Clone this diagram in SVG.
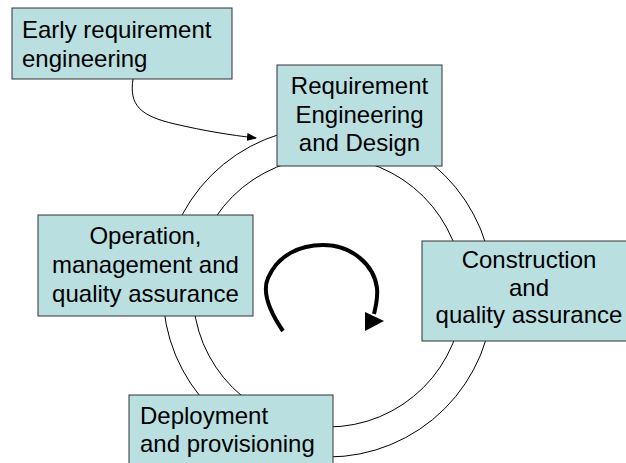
<svg xmlns="http://www.w3.org/2000/svg" width="626" height="463" viewBox="0 0 626 463">
<style>
.box{fill:#b9dfe1;stroke:#333;stroke-width:1}
.t{font-family:"Liberation Sans",Arial,sans-serif;font-size:24px;fill:#000}
.c{text-anchor:middle}
.ring{fill:none;stroke:#000;stroke-width:1}
</style>
<defs>
<marker id="ah" markerWidth="10" markerHeight="8" refX="9" refY="4" orient="auto" markerUnits="userSpaceOnUse">
<path d="M0,0 L10,4 L0,8 Z" fill="#000"/>
</marker>
</defs>
<rect width="626" height="463" fill="#fff"/>
<g id="connectors">
<circle class="ring" cx="328" cy="292" r="165"/>
<circle class="ring" cx="328" cy="292" r="135"/>
<path d="M133,79 C129,105 140,116 175,124 C205,131 230,135 256,138" fill="none" stroke="#000" stroke-width="1" marker-end="url(#ah)"/>
<path d="M283,331 C270,312 262,292 268,278 C278,255 300,245 323,245 C352,245 374,265 377,288 C378,298 376,306 374,314" fill="none" stroke="#000" stroke-width="4"/>
<polygon points="365,331 365,312 384,321" fill="#000"/>
</g>
<g id="early">
<rect class="box" x="12" y="8" width="220" height="71"/>
<text class="t" x="22" y="38">Early requirement</text>
<text class="t" x="22" y="66.5">engineering</text>
</g>
<g id="reqdesign">
<rect class="box" x="277" y="65" width="165" height="101"/>
<text class="t c" x="359.5" y="94">Requirement</text>
<text class="t c" x="359.5" y="122.5">Engineering</text>
<text class="t c" x="359.5" y="151">and Design</text>
</g>
<g id="operation">
<rect class="box" x="38" y="215" width="215" height="101"/>
<text class="t c" x="145.5" y="244">Operation,</text>
<text class="t c" x="145.5" y="273">management and</text>
<text class="t c" x="145.5" y="302">quality assurance</text>
</g>
<g id="construction">
<rect class="box" x="422" y="241" width="214" height="100"/>
<text class="t c" x="529" y="268">Construction</text>
<text class="t c" x="529" y="295.5">and</text>
<text class="t c" x="529" y="323">quality assurance</text>
</g>
<g id="deployment">
<rect class="box" x="129" y="395" width="204" height="80"/>
<text class="t" x="140" y="423.5">Deployment</text>
<text class="t" x="140" y="452">and provisioning</text>
</g>
</svg>
